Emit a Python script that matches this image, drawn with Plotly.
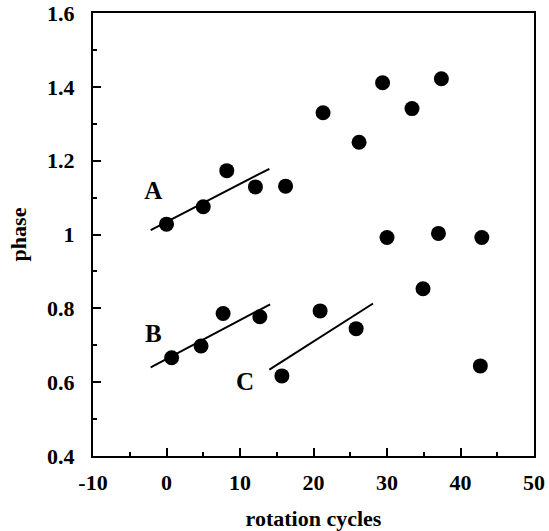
import plotly.graph_objects as go

# measured points (rotation cycles, phase)
cycles = [0.0, 5.0, 8.2, 12.1, 16.2, 21.3, 26.2, 29.4, 33.4, 37.4,
          0.7, 4.7, 7.7, 12.7, 15.7, 20.9, 25.8, 34.9, 30.0, 37.0, 42.9, 42.7]
phase = [1.028, 1.075, 1.173, 1.129, 1.131, 1.330, 1.250, 1.411, 1.341, 1.422,
         0.666, 0.698, 0.786, 0.777, 0.617, 0.793, 0.745, 0.853, 0.992, 1.003, 0.992, 0.644]

# fitted lines A, B, C (endpoints)
line_a_x = [-2.15, 14.0]
line_a_y = [1.012, 1.178]
line_b_x = [-2.15, 14.1]
line_b_y = [0.640, 0.811]
line_c_x = [14.0, 28.1]
line_c_y = [0.634, 0.813]

labels = ["A", "B", "C"]
label_x = [-1.8, -1.8, 10.7]
label_y = [1.112, 0.725, 0.597]

x_ticks = [-10, 0, 10, 20, 30, 40, 50]
x_ticktext = ["-10", "0", "10", "20", "30", "40", "50"]
y_ticks = [0.4, 0.6, 0.8, 1.0, 1.2, 1.4, 1.6]
y_ticktext = ["0.4", "0.6", "0.8", "1", "1.2", "1.4", "1.6"]

font = "Liberation Serif"

fig = go.Figure()
for lx, ly in [(line_a_x, line_a_y), (line_b_x, line_b_y), (line_c_x, line_c_y)]:
    fig.add_trace(go.Scatter(x=lx, y=ly, mode="lines",
                             line=dict(color="black", width=2), showlegend=False))

fig.add_trace(go.Scatter(x=cycles, y=phase, mode="markers",
                         marker=dict(color="black", size=15), showlegend=False))

fig.add_trace(go.Scatter(x=label_x, y=label_y, mode="text", text=labels,
                         textfont=dict(family=font, size=25, color="black", weight="bold"),
                         showlegend=False))

axis_common = dict(
    showgrid=False, zeroline=False, showline=True, linecolor="black", linewidth=2,
    mirror=True, ticks="inside", ticklen=8, tickwidth=1.5, tickcolor="black",
    tickfont=dict(family=font, size=22, color="black", weight="bold"),
    automargin=False,
)

fig.update_xaxes(range=[-10, 50], tickvals=x_ticks, ticktext=x_ticktext,
                 minor=dict(dtick=5, tick0=0, ticks="inside", ticklen=4, tickwidth=1.5, tickcolor="black"),
                 ticklabelstandoff=6,
                 title=dict(text="rotation cycles", standoff=20,
                            font=dict(family=font, size=22, color="black", weight="bold")),
                 **axis_common)
fig.update_yaxes(range=[0.4, 1.6], tickvals=y_ticks, ticktext=y_ticktext,
                 minor=dict(dtick=0.1, tick0=0.4, ticks="inside", ticklen=4, tickwidth=1.5, tickcolor="black"),
                 ticklabelstandoff=12,
                 title=dict(text="phase", standoff=14,
                            font=dict(family=font, size=22, color="black", weight="bold")),
                 **axis_common)

fig.update_layout(
    width=549, height=531,
    margin=dict(l=93, r=15, t=13, b=75),
    plot_bgcolor="white", paper_bgcolor="white",
)

# drop the default page margin so the figure fills the window
fig.write_html("out.html", config={"displayModeBar": False},
               post_script="document.body.style.margin='0';")
